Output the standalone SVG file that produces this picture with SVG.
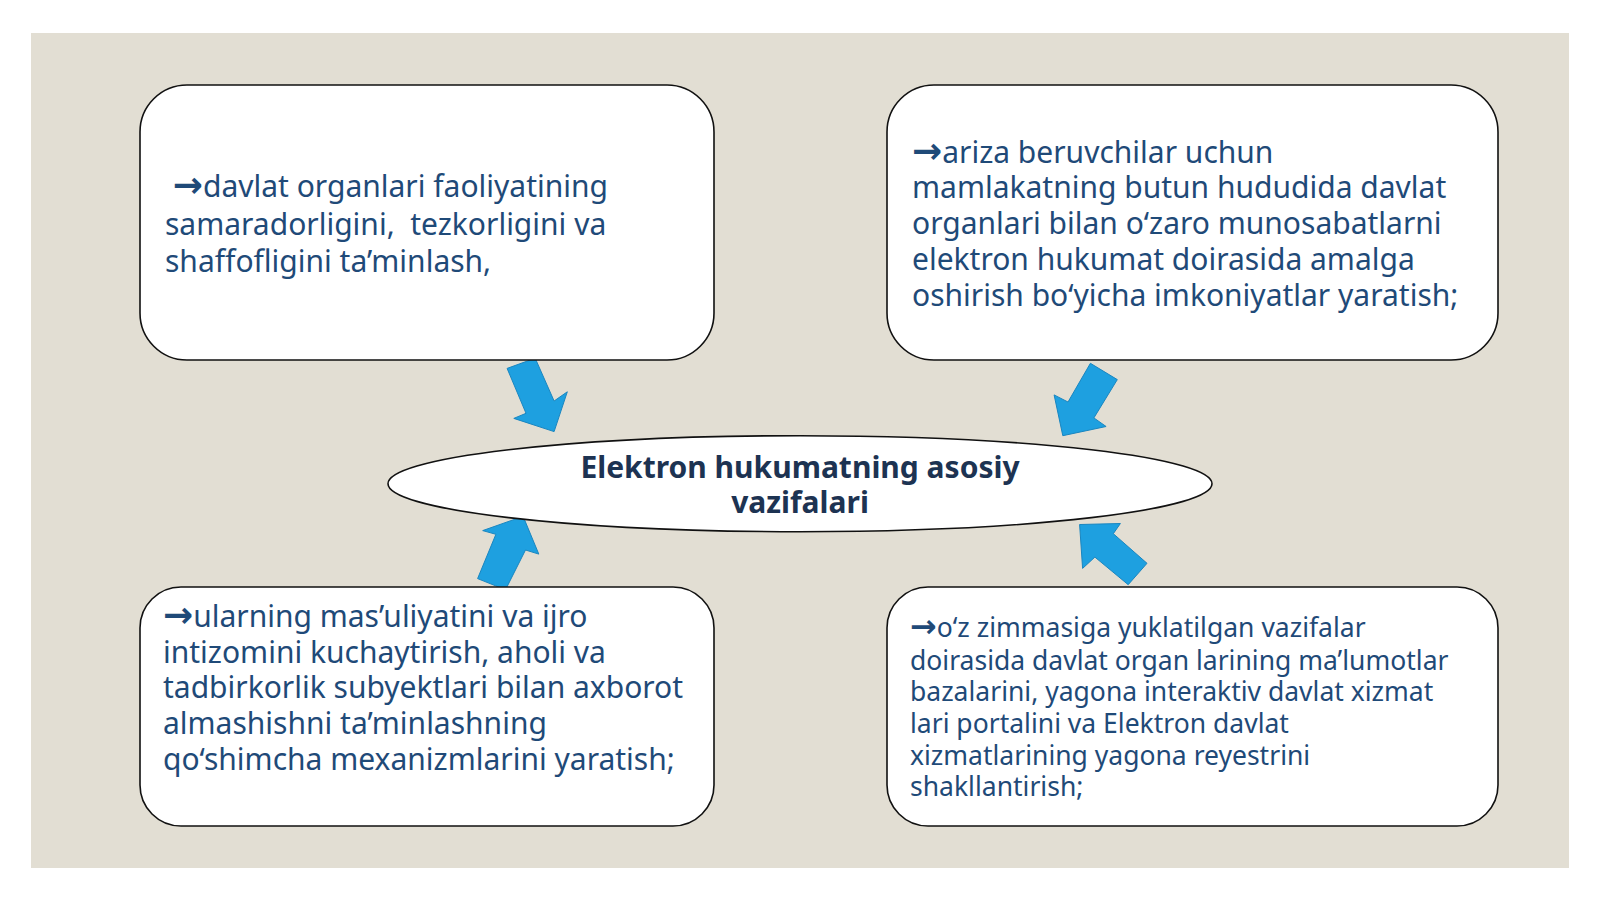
<svg xmlns="http://www.w3.org/2000/svg" width="1600" height="899" viewBox="0 0 1600 899">
<style>
.box{fill:#ffffff;stroke:#111111;stroke-width:1.6}
.t{font-family:"Noto Sans","Open Sans","DejaVu Sans",sans-serif;font-size:30px;fill:#1f4a78}
.ts{font-family:"Noto Sans","Open Sans","DejaVu Sans",sans-serif;font-size:26.5px;fill:#1f4a78}
.ar{font-family:"DejaVu Sans",sans-serif;font-weight:bold;font-size:1.2em}
.title{font-family:"Noto Sans","Open Sans","DejaVu Sans",sans-serif;font-size:30px;font-weight:bold;fill:#1d3352;text-anchor:middle}
.arr{fill:#1ea0e0;stroke:#1a86c0;stroke-width:1;stroke-linejoin:round}
</style>
<rect x="0" y="0" width="1600" height="899" fill="#ffffff"/>
<rect x="31" y="33" width="1538" height="835" fill="#e2ded3"/>
<g id="connectors">
<polygon class="arr" points="507.1,368.4 535.2,358.2 554.1,401 567.3,391.8 554.1,431.6 513.8,418.4 526,413.3"/>
<polygon class="arr" points="1090.4,363.3 1117.3,379.6 1093.9,417.9 1106.1,426.5 1062.8,435.7 1054.1,394.9 1068,402"/>
<polygon class="arr" points="523.1,516.3 538.8,554.1 525.5,550 505.5,589.8 477.6,578.6 495.9,534.3 482.7,530.6"/>
<polygon class="arr" points="1079.6,524.5 1120.4,523.5 1113.3,533.7 1147,563.3 1128.2,584.7 1094.9,557.1 1082.6,568.4"/>
</g>
<g id="node-tl">
<rect class="box" x="140" y="85" width="574" height="275" rx="47"/>
<text class="t" xml:space="preserve"><tspan x="165" y="197"> <tspan class="ar">→</tspan>davlat organlari faoliyatining</tspan><tspan x="165" y="234.5">samaradorligini,  tezkorligini va</tspan><tspan x="165" y="272">shaffofligini ta’minlash,</tspan></text>
</g>
<g id="node-tr">
<rect class="box" x="887" y="85" width="611" height="275" rx="47"/>
<text class="t"><tspan x="912" y="162.5"><tspan class="ar">→</tspan>ariza beruvchilar uchun</tspan><tspan x="912" y="198">mamlakatning butun hududida davlat</tspan><tspan x="912" y="234">organlari bilan o‘zaro munosabatlarni</tspan><tspan x="912" y="269.5">elektron hukumat doirasida amalga</tspan><tspan x="912" y="306">oshirish bo‘yicha imkoniyatlar yaratish;</tspan></text>
</g>
<g id="node-center">
<ellipse cx="800" cy="483.7" rx="412" ry="48" fill="#ffffff" stroke="#111111" stroke-width="1.6"/>
<text class="title"><tspan x="800" y="478">Elektron hukumatning asosiy</tspan><tspan x="800" y="512.5">vazifalari</tspan></text>
</g>
<g id="node-bl">
<rect class="box" x="140" y="587" width="574" height="239" rx="41"/>
<text class="t"><tspan x="163" y="627"><tspan class="ar">→</tspan>ularning mas’uliyatini va ijro</tspan><tspan x="163" y="662.5">intizomini kuchaytirish, aholi va</tspan><tspan x="163" y="698">tadbirkorlik subyektlari bilan axborot</tspan><tspan x="163" y="734">almashishni ta’minlashning</tspan><tspan x="163" y="769.5">qo‘shimcha mexanizmlarini yaratish;</tspan></text>
</g>
<g id="node-br">
<rect class="box" x="887" y="587" width="611" height="239" rx="41"/>
<text class="ts"><tspan x="910" y="637"><tspan class="ar">→</tspan>o‘z zimmasiga yuklatilgan vazifalar</tspan><tspan x="910" y="669.5">doirasida davlat organ larining ma’lumotlar</tspan><tspan x="910" y="701">bazalarini, yagona interaktiv davlat xizmat</tspan><tspan x="910" y="733">lari portalini va Elektron davlat</tspan><tspan x="910" y="764.5">xizmatlarining yagona reyestrini</tspan><tspan x="910" y="796">shakllantirish;</tspan></text>
</g>
</svg>
